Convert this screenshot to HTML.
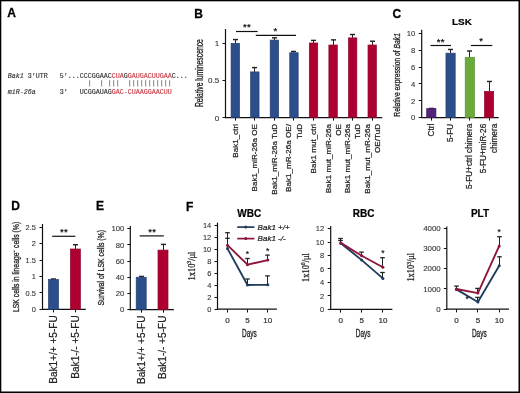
<!DOCTYPE html>
<html><head><meta charset="utf-8"><style>
html,body{margin:0;padding:0;background:#fff;}
body{width:520px;height:393px;overflow:hidden;position:relative;}
svg{position:absolute;left:0;top:0;font-family:"Liberation Sans",sans-serif;will-change:transform;}
</style></head><body>
<svg width="520" height="393" viewBox="0 0 520 393">
<rect x="0" y="0" width="520" height="393" fill="#fff"/>
<text x="7.30" y="17.40" font-size="12" text-anchor="start" font-weight="bold" font-style="normal" fill="#000" stroke="#000" stroke-width="0.3" >A</text>
<text x="7.7" y="78.2" font-size="6.67" font-family="Liberation Mono, monospace" xml:space="preserve" textLength="180.00" lengthAdjust="spacing"><tspan fill="#333333" stroke="#333333" stroke-width="0.15" font-style="italic">Bak1</tspan><tspan fill="#333333" stroke="#333333" stroke-width="0.15"> 3'UTR   5'...CCCGGAAC</tspan><tspan fill="#c63a44" stroke="#c63a44" stroke-width="0.15">CUA</tspan><tspan fill="#333333" stroke="#333333" stroke-width="0.15">G</tspan><tspan fill="#c63a44" stroke="#c63a44" stroke-width="0.15">GAUGACUUGAA</tspan><tspan fill="#333333" stroke="#333333" stroke-width="0.15">C...</tspan></text>
<text x="7.7" y="94.0" font-size="6.67" font-family="Liberation Mono, monospace" xml:space="preserve" textLength="164.00" lengthAdjust="spacing"><tspan fill="#333333" stroke="#333333" stroke-width="0.15" font-style="italic">miR-26a</tspan><tspan fill="#333333" stroke="#333333" stroke-width="0.15">      3'   UCGGAUAG</tspan><tspan fill="#c63a44" stroke="#c63a44" stroke-width="0.15">GAC</tspan><tspan fill="#c63a44" stroke="#c63a44" stroke-width="0.15">-</tspan><tspan fill="#c63a44" stroke="#c63a44" stroke-width="0.15">CUAAGGAACUU</tspan></text>
<rect x="89.25" y="80.20" width="0.90" height="6.30" fill="#777"/>
<rect x="101.25" y="80.20" width="0.90" height="6.30" fill="#777"/>
<rect x="109.25" y="80.20" width="0.90" height="6.30" fill="#777"/>
<rect x="113.25" y="80.20" width="0.90" height="6.30" fill="#777"/>
<rect x="117.25" y="80.20" width="0.90" height="6.30" fill="#777"/>
<rect x="129.25" y="80.20" width="0.90" height="6.30" fill="#777"/>
<rect x="133.25" y="80.20" width="0.90" height="6.30" fill="#777"/>
<rect x="137.25" y="80.20" width="0.90" height="6.30" fill="#777"/>
<rect x="141.25" y="80.20" width="0.90" height="6.30" fill="#777"/>
<rect x="145.25" y="80.20" width="0.90" height="6.30" fill="#777"/>
<rect x="149.25" y="80.20" width="0.90" height="6.30" fill="#777"/>
<rect x="153.25" y="80.20" width="0.90" height="6.30" fill="#777"/>
<rect x="157.25" y="80.20" width="0.90" height="6.30" fill="#777"/>
<rect x="161.25" y="80.20" width="0.90" height="6.30" fill="#777"/>
<rect x="165.25" y="80.20" width="0.90" height="6.30" fill="#777"/>
<rect x="169.25" y="80.20" width="0.90" height="6.30" fill="#777"/>
<text x="194.30" y="17.50" font-size="12" text-anchor="start" font-weight="bold" font-style="normal" fill="#000" stroke="#000" stroke-width="0.3" >B</text>
<line x1="225.50" y1="29.00" x2="225.50" y2="118.10" stroke="#111" stroke-width="1.2"/>
<line x1="224.90" y1="117.60" x2="382.20" y2="117.60" stroke="#111" stroke-width="1.2"/>
<line x1="222.50" y1="117.50" x2="225.50" y2="117.50" stroke="#111" stroke-width="1.0"/>
<text x="219.20" y="120.50" font-size="8" text-anchor="end" font-weight="normal" font-style="normal" fill="#333" stroke="#333" stroke-width="0.1" >0</text>
<line x1="222.50" y1="80.50" x2="225.50" y2="80.50" stroke="#111" stroke-width="1.0"/>
<text x="219.20" y="83.35" font-size="8" text-anchor="end" font-weight="normal" font-style="normal" fill="#333" stroke="#333" stroke-width="0.1" >0.5</text>
<line x1="222.50" y1="43.50" x2="225.50" y2="43.50" stroke="#111" stroke-width="1.0"/>
<text x="219.20" y="46.20" font-size="8" text-anchor="end" font-weight="normal" font-style="normal" fill="#333" stroke="#333" stroke-width="0.1" >1</text>
<text transform="translate(202.70,73.10) rotate(-90) scale(0.68,1)" font-size="10" text-anchor="middle" font-weight="normal" font-style="normal" fill="#222" stroke="#222" stroke-width="0.3" >Relative luminescence</text>
<line x1="235.50" y1="39.58" x2="235.50" y2="43.30" stroke="#222" stroke-width="1.0"/>
<line x1="233.00" y1="39.58" x2="238.00" y2="39.58" stroke="#222" stroke-width="1.4300000000000002"/>
<rect x="231.08" y="43.30" width="8.40" height="74.30" fill="#2c4e8b" stroke="#243f70" stroke-width="0.7"/>
<line x1="235.50" y1="117.60" x2="235.50" y2="120.60" stroke="#111" stroke-width="1.0"/>
<line x1="254.50" y1="67.60" x2="254.50" y2="71.91" stroke="#222" stroke-width="1.0"/>
<line x1="252.00" y1="67.60" x2="257.00" y2="67.60" stroke="#222" stroke-width="1.4300000000000002"/>
<rect x="250.64" y="71.91" width="8.40" height="45.69" fill="#2c4e8b" stroke="#243f70" stroke-width="0.7"/>
<line x1="254.50" y1="117.60" x2="254.50" y2="120.60" stroke="#111" stroke-width="1.0"/>
<line x1="274.50" y1="37.80" x2="274.50" y2="40.11" stroke="#222" stroke-width="1.0"/>
<line x1="272.00" y1="37.80" x2="277.00" y2="37.80" stroke="#222" stroke-width="1.4300000000000002"/>
<rect x="270.20" y="40.11" width="8.40" height="77.49" fill="#2c4e8b" stroke="#243f70" stroke-width="0.7"/>
<line x1="274.50" y1="117.60" x2="274.50" y2="120.60" stroke="#111" stroke-width="1.0"/>
<line x1="293.50" y1="51.47" x2="293.50" y2="52.74" stroke="#222" stroke-width="1.0"/>
<line x1="291.00" y1="51.47" x2="296.00" y2="51.47" stroke="#222" stroke-width="1.4300000000000002"/>
<rect x="289.76" y="52.74" width="8.40" height="64.86" fill="#2c4e8b" stroke="#243f70" stroke-width="0.7"/>
<line x1="293.50" y1="117.60" x2="293.50" y2="120.60" stroke="#111" stroke-width="1.0"/>
<line x1="313.50" y1="40.40" x2="313.50" y2="43.00" stroke="#222" stroke-width="1.0"/>
<line x1="311.00" y1="40.40" x2="316.00" y2="40.40" stroke="#222" stroke-width="1.4300000000000002"/>
<rect x="309.32" y="43.00" width="8.40" height="74.60" fill="#ae0030" stroke="#8c0a2c" stroke-width="0.7"/>
<line x1="313.50" y1="117.60" x2="313.50" y2="120.60" stroke="#111" stroke-width="1.0"/>
<line x1="333.50" y1="39.88" x2="333.50" y2="45.01" stroke="#222" stroke-width="1.0"/>
<line x1="331.00" y1="39.88" x2="336.00" y2="39.88" stroke="#222" stroke-width="1.4300000000000002"/>
<rect x="328.88" y="45.01" width="8.40" height="72.59" fill="#ae0030" stroke="#8c0a2c" stroke-width="0.7"/>
<line x1="333.50" y1="117.60" x2="333.50" y2="120.60" stroke="#111" stroke-width="1.0"/>
<line x1="352.50" y1="34.53" x2="352.50" y2="37.88" stroke="#222" stroke-width="1.0"/>
<line x1="350.00" y1="34.53" x2="355.00" y2="34.53" stroke="#222" stroke-width="1.4300000000000002"/>
<rect x="348.44" y="37.88" width="8.40" height="79.72" fill="#ae0030" stroke="#8c0a2c" stroke-width="0.7"/>
<line x1="352.50" y1="117.60" x2="352.50" y2="120.60" stroke="#111" stroke-width="1.0"/>
<line x1="372.50" y1="41.22" x2="372.50" y2="45.01" stroke="#222" stroke-width="1.0"/>
<line x1="370.00" y1="41.22" x2="375.00" y2="41.22" stroke="#222" stroke-width="1.4300000000000002"/>
<rect x="368.00" y="45.01" width="8.40" height="72.59" fill="#ae0030" stroke="#8c0a2c" stroke-width="0.7"/>
<line x1="372.50" y1="117.60" x2="372.50" y2="120.60" stroke="#111" stroke-width="1.0"/>
<text transform="translate(237.58,124.00) rotate(-90)" font-size="8.1" text-anchor="end" font-weight="normal" font-style="normal" fill="#222" stroke="#222" stroke-width="0.22" >Bak1_ctrl</text>
<text transform="translate(257.14,124.00) rotate(-90)" font-size="8.1" text-anchor="end" font-weight="normal" font-style="normal" fill="#222" stroke="#222" stroke-width="0.22" >Bak1_miR-26a OE</text>
<text transform="translate(276.70,124.00) rotate(-90)" font-size="8.1" text-anchor="end" font-weight="normal" font-style="normal" fill="#222" stroke="#222" stroke-width="0.22" >Bak1_miR-26a TuD</text>
<text transform="translate(291.46,124.00) rotate(-90)" font-size="8.1" text-anchor="end" font-weight="normal" font-style="normal" fill="#222" stroke="#222" stroke-width="0.22" >Bak1_mR-26a OE/</text>
<text transform="translate(301.66,124.00) rotate(-90)" font-size="8.1" text-anchor="end" font-weight="normal" font-style="normal" fill="#222" stroke="#222" stroke-width="0.22" >TuD</text>
<text transform="translate(315.82,124.00) rotate(-90)" font-size="8.1" text-anchor="end" font-weight="normal" font-style="normal" fill="#222" stroke="#222" stroke-width="0.22" >Bak1 mut_ctrl</text>
<text transform="translate(330.58,124.00) rotate(-90)" font-size="8.1" text-anchor="end" font-weight="normal" font-style="normal" fill="#222" stroke="#222" stroke-width="0.22" >Bak1 mut_miR-26a</text>
<text transform="translate(340.78,124.00) rotate(-90)" font-size="8.1" text-anchor="end" font-weight="normal" font-style="normal" fill="#222" stroke="#222" stroke-width="0.22" >OE</text>
<text transform="translate(350.14,124.00) rotate(-90)" font-size="8.1" text-anchor="end" font-weight="normal" font-style="normal" fill="#222" stroke="#222" stroke-width="0.22" >Bak1 mut_miR-26a</text>
<text transform="translate(360.34,124.00) rotate(-90)" font-size="8.1" text-anchor="end" font-weight="normal" font-style="normal" fill="#222" stroke="#222" stroke-width="0.22" >TuD</text>
<text transform="translate(369.70,124.00) rotate(-90)" font-size="8.1" text-anchor="end" font-weight="normal" font-style="normal" fill="#222" stroke="#222" stroke-width="0.22" >Bak1_mut_mR-26a</text>
<text transform="translate(379.90,124.00) rotate(-90)" font-size="8.1" text-anchor="end" font-weight="normal" font-style="normal" fill="#222" stroke="#222" stroke-width="0.22" >OE/TuD</text>
<line x1="236.00" y1="31.50" x2="257.60" y2="31.50" stroke="#111" stroke-width="1.2"/>
<text x="247.00" y="30.20" font-size="9.6" text-anchor="middle" font-weight="normal" font-style="normal" fill="#000" stroke="#000" stroke-width="0.2" letter-spacing="0.3">**</text>
<line x1="255.80" y1="35.30" x2="296.00" y2="35.30" stroke="#111" stroke-width="1.3"/>
<text x="275.30" y="34.00" font-size="9.6" text-anchor="middle" font-weight="normal" font-style="normal" fill="#000" stroke="#000" stroke-width="0.2" >*</text>
<text x="392.50" y="17.60" font-size="12" text-anchor="start" font-weight="bold" font-style="normal" fill="#000" stroke="#000" stroke-width="0.3" >C</text>
<text x="461.90" y="24.80" font-size="9.9" text-anchor="middle" font-weight="bold" font-style="normal" fill="#000" stroke="#000" stroke-width="0.2" >LSK</text>
<line x1="421.70" y1="29.80" x2="421.70" y2="118.10" stroke="#111" stroke-width="1.2"/>
<line x1="421.10" y1="117.60" x2="498.70" y2="117.60" stroke="#111" stroke-width="1.2"/>
<line x1="418.70" y1="117.50" x2="421.70" y2="117.50" stroke="#111" stroke-width="1.0"/>
<text x="415.30" y="120.35" font-size="7.7" text-anchor="end" font-weight="normal" font-style="normal" fill="#333" stroke="#333" stroke-width="0.1" >0</text>
<line x1="418.70" y1="100.50" x2="421.70" y2="100.50" stroke="#111" stroke-width="1.0"/>
<text x="415.30" y="103.51" font-size="7.7" text-anchor="end" font-weight="normal" font-style="normal" fill="#333" stroke="#333" stroke-width="0.1" >2</text>
<line x1="418.70" y1="83.50" x2="421.70" y2="83.50" stroke="#111" stroke-width="1.0"/>
<text x="415.30" y="86.67" font-size="7.7" text-anchor="end" font-weight="normal" font-style="normal" fill="#333" stroke="#333" stroke-width="0.1" >4</text>
<line x1="418.70" y1="67.50" x2="421.70" y2="67.50" stroke="#111" stroke-width="1.0"/>
<text x="415.30" y="69.83" font-size="7.7" text-anchor="end" font-weight="normal" font-style="normal" fill="#333" stroke="#333" stroke-width="0.1" >6</text>
<line x1="418.70" y1="50.50" x2="421.70" y2="50.50" stroke="#111" stroke-width="1.0"/>
<text x="415.30" y="52.99" font-size="7.7" text-anchor="end" font-weight="normal" font-style="normal" fill="#333" stroke="#333" stroke-width="0.1" >8</text>
<line x1="418.70" y1="33.50" x2="421.70" y2="33.50" stroke="#111" stroke-width="1.0"/>
<text x="415.30" y="36.15" font-size="7.7" text-anchor="end" font-weight="normal" font-style="normal" fill="#333" stroke="#333" stroke-width="0.1" >10</text>
<text transform="translate(400,74.85) rotate(-90) scale(0.69,1)" font-size="9.8" text-anchor="middle" fill="#222" stroke="#222" stroke-width="0.3">Relative expression of <tspan font-style="italic">Bak1</tspan></text>
<line x1="431.50" y1="108.42" x2="431.50" y2="108.59" stroke="#222" stroke-width="1.0"/>
<line x1="429.00" y1="108.42" x2="434.00" y2="108.42" stroke="#222" stroke-width="1.4300000000000002"/>
<rect x="426.72" y="108.59" width="9.20" height="9.01" fill="#512477" stroke="#3e1a60" stroke-width="0.7"/>
<line x1="431.50" y1="117.60" x2="431.50" y2="120.60" stroke="#111" stroke-width="1.0"/>
<line x1="450.50" y1="49.48" x2="450.50" y2="53.19" stroke="#222" stroke-width="1.0"/>
<line x1="448.00" y1="49.48" x2="453.00" y2="49.48" stroke="#222" stroke-width="1.4300000000000002"/>
<rect x="445.97" y="53.19" width="9.20" height="64.41" fill="#2c4e8b" stroke="#243f70" stroke-width="0.7"/>
<line x1="450.50" y1="117.60" x2="450.50" y2="120.60" stroke="#111" stroke-width="1.0"/>
<line x1="469.50" y1="51.00" x2="469.50" y2="57.31" stroke="#222" stroke-width="1.0"/>
<line x1="467.00" y1="51.00" x2="472.00" y2="51.00" stroke="#222" stroke-width="1.4300000000000002"/>
<rect x="465.22" y="57.31" width="9.20" height="60.29" fill="#6aab3b" stroke="#5a9030" stroke-width="0.7"/>
<line x1="469.50" y1="117.60" x2="469.50" y2="120.60" stroke="#111" stroke-width="1.0"/>
<line x1="489.50" y1="81.48" x2="489.50" y2="91.33" stroke="#222" stroke-width="1.0"/>
<line x1="487.00" y1="81.48" x2="492.00" y2="81.48" stroke="#222" stroke-width="1.4300000000000002"/>
<rect x="484.47" y="91.33" width="9.20" height="26.27" fill="#ae0030" stroke="#8c0a2c" stroke-width="0.7"/>
<line x1="489.50" y1="117.60" x2="489.50" y2="120.60" stroke="#111" stroke-width="1.0"/>
<text transform="translate(433.93,123.80) rotate(-90)" font-size="8.2" text-anchor="end" font-weight="normal" font-style="normal" fill="#222" stroke="#222" stroke-width="0.22" >Ctrl</text>
<text transform="translate(453.18,123.80) rotate(-90)" font-size="8.2" text-anchor="end" font-weight="normal" font-style="normal" fill="#222" stroke="#222" stroke-width="0.22" >5-FU</text>
<text transform="translate(472.43,123.80) rotate(-90)" font-size="8.2" text-anchor="end" font-weight="normal" font-style="normal" fill="#222" stroke="#222" stroke-width="0.22" >5-FU+ctrl chimera</text>
<text transform="translate(486.47,123.80) rotate(-90)" font-size="8.2" text-anchor="end" font-weight="normal" font-style="normal" fill="#222" stroke="#222" stroke-width="0.22" >5-FU+miR-26</text>
<text transform="translate(496.57,123.80) rotate(-90)" font-size="8.2" text-anchor="end" font-weight="normal" font-style="normal" fill="#222" stroke="#222" stroke-width="0.22" >chimera</text>
<line x1="430.50" y1="45.50" x2="451.00" y2="45.50" stroke="#111" stroke-width="1.2"/>
<text x="440.70" y="44.60" font-size="9.6" text-anchor="middle" font-weight="normal" font-style="normal" fill="#000" stroke="#000" stroke-width="0.2" letter-spacing="0.3">**</text>
<line x1="470.90" y1="45.50" x2="492.30" y2="45.50" stroke="#111" stroke-width="1.2"/>
<text x="481.20" y="44.40" font-size="9.6" text-anchor="middle" font-weight="normal" font-style="normal" fill="#000" stroke="#000" stroke-width="0.2" >*</text>
<text x="11.30" y="210.10" font-size="12" text-anchor="start" font-weight="bold" font-style="normal" fill="#000" stroke="#000" stroke-width="0.3" >D</text>
<line x1="42.50" y1="224.00" x2="42.50" y2="309.90" stroke="#111" stroke-width="1.2"/>
<line x1="41.90" y1="309.40" x2="85.80" y2="309.40" stroke="#111" stroke-width="1.2"/>
<line x1="39.50" y1="309.50" x2="42.50" y2="309.50" stroke="#111" stroke-width="1.0"/>
<text x="35.80" y="312.05" font-size="7.4" text-anchor="end" font-weight="normal" font-style="normal" fill="#333" stroke="#333" stroke-width="0.1" >0</text>
<line x1="39.50" y1="292.50" x2="42.50" y2="292.50" stroke="#111" stroke-width="1.0"/>
<text x="35.80" y="295.60" font-size="7.4" text-anchor="end" font-weight="normal" font-style="normal" fill="#333" stroke="#333" stroke-width="0.1" >0.5</text>
<line x1="39.50" y1="276.50" x2="42.50" y2="276.50" stroke="#111" stroke-width="1.0"/>
<text x="35.80" y="279.15" font-size="7.4" text-anchor="end" font-weight="normal" font-style="normal" fill="#333" stroke="#333" stroke-width="0.1" >1</text>
<line x1="39.50" y1="260.50" x2="42.50" y2="260.50" stroke="#111" stroke-width="1.0"/>
<text x="35.80" y="262.70" font-size="7.4" text-anchor="end" font-weight="normal" font-style="normal" fill="#333" stroke="#333" stroke-width="0.1" >1.5</text>
<line x1="39.50" y1="243.50" x2="42.50" y2="243.50" stroke="#111" stroke-width="1.0"/>
<text x="35.80" y="246.25" font-size="7.4" text-anchor="end" font-weight="normal" font-style="normal" fill="#333" stroke="#333" stroke-width="0.1" >2</text>
<line x1="39.50" y1="227.50" x2="42.50" y2="227.50" stroke="#111" stroke-width="1.0"/>
<text x="35.80" y="229.80" font-size="7.4" text-anchor="end" font-weight="normal" font-style="normal" fill="#333" stroke="#333" stroke-width="0.1" >2.5</text>
<text transform="translate(19,266.95) rotate(-90) scale(0.72,1)" font-size="9.5" text-anchor="middle" fill="#222" stroke="#222" stroke-width="0.3">LSK cells in lineage<tspan font-size="6" dy="-3.5">−</tspan><tspan dy="3.5"> cells (%)</tspan></text>
<line x1="53.50" y1="278.97" x2="53.50" y2="279.46" stroke="#222" stroke-width="1.0"/>
<line x1="51.00" y1="278.97" x2="56.00" y2="278.97" stroke="#222" stroke-width="1.4300000000000002"/>
<rect x="48.50" y="279.46" width="10.00" height="29.94" fill="#2c4e8b" stroke="#243f70" stroke-width="0.7"/>
<line x1="53.50" y1="309.40" x2="53.50" y2="312.40" stroke="#111" stroke-width="1.0"/>
<line x1="75.50" y1="244.75" x2="75.50" y2="249.00" stroke="#222" stroke-width="1.0"/>
<line x1="73.00" y1="244.75" x2="78.00" y2="244.75" stroke="#222" stroke-width="1.4300000000000002"/>
<rect x="70.40" y="249.00" width="10.00" height="60.40" fill="#ae0030" stroke="#8c0a2c" stroke-width="0.7"/>
<line x1="75.50" y1="309.40" x2="75.50" y2="312.40" stroke="#111" stroke-width="1.0"/>
<text transform="translate(57.40,315.30) rotate(-90)" font-size="10.05" text-anchor="end" font-weight="normal" font-style="normal" fill="#222" stroke="#222" stroke-width="0.22" >Bak1+/+ +5-FU</text>
<text transform="translate(78.60,315.30) rotate(-90)" font-size="10.05" text-anchor="end" font-weight="normal" font-style="normal" fill="#222" stroke="#222" stroke-width="0.22" >Bak1-/- +5-FU</text>
<line x1="52.20" y1="236.30" x2="75.30" y2="236.30" stroke="#111" stroke-width="1.2"/>
<text x="64.10" y="235.20" font-size="9.6" text-anchor="middle" font-weight="normal" font-style="normal" fill="#000" stroke="#000" stroke-width="0.2" letter-spacing="0.3">**</text>
<text x="96.00" y="210.20" font-size="12" text-anchor="start" font-weight="bold" font-style="normal" fill="#000" stroke="#000" stroke-width="0.3" >E</text>
<line x1="130.30" y1="226.00" x2="130.30" y2="310.20" stroke="#111" stroke-width="1.2"/>
<line x1="129.70" y1="309.70" x2="173.90" y2="309.70" stroke="#111" stroke-width="1.2"/>
<line x1="127.30" y1="309.50" x2="130.30" y2="309.50" stroke="#111" stroke-width="1.0"/>
<text x="124.30" y="312.45" font-size="7.7" text-anchor="end" font-weight="normal" font-style="normal" fill="#333" stroke="#333" stroke-width="0.1" >0</text>
<line x1="127.30" y1="293.50" x2="130.30" y2="293.50" stroke="#111" stroke-width="1.0"/>
<text x="124.30" y="296.23" font-size="7.7" text-anchor="end" font-weight="normal" font-style="normal" fill="#333" stroke="#333" stroke-width="0.1" >20</text>
<line x1="127.30" y1="277.50" x2="130.30" y2="277.50" stroke="#111" stroke-width="1.0"/>
<text x="124.30" y="280.01" font-size="7.7" text-anchor="end" font-weight="normal" font-style="normal" fill="#333" stroke="#333" stroke-width="0.1" >40</text>
<line x1="127.30" y1="261.50" x2="130.30" y2="261.50" stroke="#111" stroke-width="1.0"/>
<text x="124.30" y="263.79" font-size="7.7" text-anchor="end" font-weight="normal" font-style="normal" fill="#333" stroke="#333" stroke-width="0.1" >60</text>
<line x1="127.30" y1="244.50" x2="130.30" y2="244.50" stroke="#111" stroke-width="1.0"/>
<text x="124.30" y="247.57" font-size="7.7" text-anchor="end" font-weight="normal" font-style="normal" fill="#333" stroke="#333" stroke-width="0.1" >80</text>
<line x1="127.30" y1="228.50" x2="130.30" y2="228.50" stroke="#111" stroke-width="1.0"/>
<text x="124.30" y="231.35" font-size="7.7" text-anchor="end" font-weight="normal" font-style="normal" fill="#333" stroke="#333" stroke-width="0.1" >100</text>
<text transform="translate(104.00,267.75) rotate(-90) scale(0.72,1)" font-size="9.6" text-anchor="middle" font-weight="normal" font-style="normal" fill="#222" stroke="#222" stroke-width="0.3" >Survival of LSK cells (%)</text>
<line x1="141.50" y1="276.45" x2="141.50" y2="277.26" stroke="#222" stroke-width="1.0"/>
<line x1="139.00" y1="276.45" x2="144.00" y2="276.45" stroke="#222" stroke-width="1.4300000000000002"/>
<rect x="136.20" y="277.26" width="10.00" height="32.44" fill="#2c4e8b" stroke="#243f70" stroke-width="0.7"/>
<line x1="141.50" y1="309.70" x2="141.50" y2="312.70" stroke="#111" stroke-width="1.0"/>
<line x1="163.50" y1="244.41" x2="163.50" y2="250.09" stroke="#222" stroke-width="1.0"/>
<line x1="161.00" y1="244.41" x2="166.00" y2="244.41" stroke="#222" stroke-width="1.4300000000000002"/>
<rect x="158.00" y="250.09" width="10.00" height="59.61" fill="#ae0030" stroke="#8c0a2c" stroke-width="0.7"/>
<line x1="163.50" y1="309.70" x2="163.50" y2="312.70" stroke="#111" stroke-width="1.0"/>
<text transform="translate(145.20,315.60) rotate(-90)" font-size="10.05" text-anchor="end" font-weight="normal" font-style="normal" fill="#222" stroke="#222" stroke-width="0.22" >Bak1+/+ +5-FU</text>
<text transform="translate(166.40,315.60) rotate(-90)" font-size="10.05" text-anchor="end" font-weight="normal" font-style="normal" fill="#222" stroke="#222" stroke-width="0.22" >Bak1-/- +5-FU</text>
<line x1="139.70" y1="235.90" x2="163.80" y2="235.90" stroke="#111" stroke-width="1.2"/>
<text x="152.20" y="235.00" font-size="9.6" text-anchor="middle" font-weight="normal" font-style="normal" fill="#000" stroke="#000" stroke-width="0.2" letter-spacing="0.3">**</text>
<text x="186.00" y="210.50" font-size="12" text-anchor="start" font-weight="bold" font-style="normal" fill="#000" stroke="#000" stroke-width="0.3" >F</text>
<text x="249.30" y="217.00" font-size="10" text-anchor="middle" font-weight="bold" font-style="normal" fill="#000" stroke="#000" stroke-width="0.2" >WBC</text>
<line x1="217.50" y1="222.60" x2="217.50" y2="309.70" stroke="#111" stroke-width="1.2"/>
<line x1="216.90" y1="309.20" x2="276.90" y2="309.20" stroke="#111" stroke-width="1.2"/>
<line x1="214.50" y1="309.50" x2="217.50" y2="309.50" stroke="#111" stroke-width="1.0"/>
<text x="211.30" y="311.90" font-size="7.5" text-anchor="end" font-weight="normal" font-style="normal" fill="#333" stroke="#333" stroke-width="0.1" >0</text>
<line x1="214.50" y1="297.50" x2="217.50" y2="297.50" stroke="#111" stroke-width="1.0"/>
<text x="211.30" y="299.96" font-size="7.5" text-anchor="end" font-weight="normal" font-style="normal" fill="#333" stroke="#333" stroke-width="0.1" >2</text>
<line x1="214.50" y1="285.50" x2="217.50" y2="285.50" stroke="#111" stroke-width="1.0"/>
<text x="211.30" y="288.02" font-size="7.5" text-anchor="end" font-weight="normal" font-style="normal" fill="#333" stroke="#333" stroke-width="0.1" >4</text>
<line x1="214.50" y1="273.50" x2="217.50" y2="273.50" stroke="#111" stroke-width="1.0"/>
<text x="211.30" y="276.08" font-size="7.5" text-anchor="end" font-weight="normal" font-style="normal" fill="#333" stroke="#333" stroke-width="0.1" >6</text>
<line x1="214.50" y1="261.50" x2="217.50" y2="261.50" stroke="#111" stroke-width="1.0"/>
<text x="211.30" y="264.14" font-size="7.5" text-anchor="end" font-weight="normal" font-style="normal" fill="#333" stroke="#333" stroke-width="0.1" >8</text>
<line x1="214.50" y1="249.50" x2="217.50" y2="249.50" stroke="#111" stroke-width="1.0"/>
<text x="211.30" y="252.20" font-size="7.5" text-anchor="end" font-weight="normal" font-style="normal" fill="#333" stroke="#333" stroke-width="0.1" >10</text>
<line x1="214.50" y1="237.50" x2="217.50" y2="237.50" stroke="#111" stroke-width="1.0"/>
<text x="211.30" y="240.26" font-size="7.5" text-anchor="end" font-weight="normal" font-style="normal" fill="#333" stroke="#333" stroke-width="0.1" >12</text>
<line x1="214.50" y1="225.50" x2="217.50" y2="225.50" stroke="#111" stroke-width="1.0"/>
<text x="211.30" y="228.32" font-size="7.5" text-anchor="end" font-weight="normal" font-style="normal" fill="#333" stroke="#333" stroke-width="0.1" >14</text>
<line x1="227.50" y1="309.20" x2="227.50" y2="312.50" stroke="#111" stroke-width="1.0"/>
<text x="227.50" y="323.10" font-size="8" text-anchor="middle" font-weight="normal" font-style="normal" fill="#333" stroke="#333" stroke-width="0.22" >0</text>
<line x1="247.50" y1="309.20" x2="247.50" y2="312.50" stroke="#111" stroke-width="1.0"/>
<text x="247.50" y="323.10" font-size="8" text-anchor="middle" font-weight="normal" font-style="normal" fill="#333" stroke="#333" stroke-width="0.22" >5</text>
<line x1="267.50" y1="309.20" x2="267.50" y2="312.50" stroke="#111" stroke-width="1.0"/>
<text x="267.80" y="323.10" font-size="8" text-anchor="middle" font-weight="normal" font-style="normal" fill="#333" stroke="#333" stroke-width="0.22" >10</text>
<text transform="translate(249.40,336.80) scale(0.65,1)" font-size="10" text-anchor="middle" font-weight="normal" font-style="normal" fill="#222" stroke="#222" stroke-width="0.3" >Days</text>
<line x1="227.50" y1="238.30" x2="227.50" y2="248.60" stroke="#222" stroke-width="1.0"/>
<line x1="225.20" y1="238.30" x2="229.80" y2="238.30" stroke="#222" stroke-width="1.3"/>
<line x1="247.50" y1="279.00" x2="247.50" y2="285.00" stroke="#222" stroke-width="1.0"/>
<line x1="245.20" y1="279.00" x2="249.80" y2="279.00" stroke="#222" stroke-width="1.3"/>
<line x1="267.50" y1="275.90" x2="267.50" y2="284.80" stroke="#222" stroke-width="1.0"/>
<line x1="265.20" y1="275.90" x2="269.80" y2="275.90" stroke="#222" stroke-width="1.3"/>
<line x1="227.50" y1="232.70" x2="227.50" y2="245.20" stroke="#222" stroke-width="1.0"/>
<line x1="225.20" y1="232.70" x2="229.80" y2="232.70" stroke="#222" stroke-width="1.3"/>
<line x1="247.50" y1="258.50" x2="247.50" y2="264.70" stroke="#222" stroke-width="1.0"/>
<line x1="245.20" y1="258.50" x2="249.80" y2="258.50" stroke="#222" stroke-width="1.3"/>
<line x1="267.50" y1="255.10" x2="267.50" y2="260.10" stroke="#222" stroke-width="1.0"/>
<line x1="265.20" y1="255.10" x2="269.80" y2="255.10" stroke="#222" stroke-width="1.3"/>
<polyline points="227.50,248.60 247.50,285.00 267.80,284.80" fill="none" stroke="#213b5e" stroke-width="1.85" stroke-linejoin="round"/>
<polyline points="227.50,245.20 247.50,264.70 267.80,260.10" fill="none" stroke="#8e1439" stroke-width="1.85" stroke-linejoin="round"/>
<circle cx="227.50" cy="248.60" r="1.5" fill="#213b5e"/>
<circle cx="247.50" cy="285.00" r="1.5" fill="#213b5e"/>
<circle cx="267.80" cy="284.80" r="1.5" fill="#213b5e"/>
<circle cx="227.50" cy="245.20" r="1.5" fill="#8e1439"/>
<circle cx="247.50" cy="264.70" r="1.5" fill="#8e1439"/>
<circle cx="267.80" cy="260.10" r="1.5" fill="#8e1439"/>
<text x="247.50" y="257.10" font-size="8.6" text-anchor="middle" font-weight="normal" font-style="normal" fill="#000" stroke="#000" stroke-width="0.1" >*</text>
<text x="267.80" y="253.70" font-size="8.6" text-anchor="middle" font-weight="normal" font-style="normal" fill="#000" stroke="#000" stroke-width="0.1" >*</text>
<text transform="translate(195.2,266) rotate(-90) scale(0.84,1)" font-family="Liberation Serif, serif" font-size="10.0" text-anchor="middle" fill="#222" stroke="#222" stroke-width="0.25">1x10<tspan font-size="6.80" dy="-3.80">3</tspan><tspan dy="3.80">/μl</tspan></text>
<line x1="237.20" y1="227.10" x2="254.40" y2="227.10" stroke="#213b5e" stroke-width="1.7"/>
<circle cx="245.8" cy="227.1" r="1.5" fill="#213b5e"/>
<line x1="237.20" y1="238.60" x2="254.40" y2="238.60" stroke="#8e1439" stroke-width="1.7"/>
<circle cx="245.8" cy="238.6" r="1.5" fill="#8e1439"/>
<text x="257.60" y="230.00" font-size="8" text-anchor="start" font-weight="normal" font-style="italic" fill="#222" stroke="#222" stroke-width="0.22" >Bak1 +/+</text>
<text x="257.60" y="241.40" font-size="8" text-anchor="start" font-weight="normal" font-style="italic" fill="#222" stroke="#222" stroke-width="0.22" >Bak1 -/-</text>
<text x="363.70" y="217.00" font-size="10" text-anchor="middle" font-weight="bold" font-style="normal" fill="#000" stroke="#000" stroke-width="0.2" >RBC</text>
<line x1="330.70" y1="226.00" x2="330.70" y2="309.80" stroke="#111" stroke-width="1.2"/>
<line x1="330.10" y1="309.30" x2="392.40" y2="309.30" stroke="#111" stroke-width="1.2"/>
<line x1="327.70" y1="309.50" x2="330.70" y2="309.50" stroke="#111" stroke-width="1.0"/>
<text x="324.20" y="312.00" font-size="7.5" text-anchor="end" font-weight="normal" font-style="normal" fill="#333" stroke="#333" stroke-width="0.1" >0</text>
<line x1="327.70" y1="295.50" x2="330.70" y2="295.50" stroke="#111" stroke-width="1.0"/>
<text x="324.20" y="298.55" font-size="7.5" text-anchor="end" font-weight="normal" font-style="normal" fill="#333" stroke="#333" stroke-width="0.1" >2</text>
<line x1="327.70" y1="282.50" x2="330.70" y2="282.50" stroke="#111" stroke-width="1.0"/>
<text x="324.20" y="285.10" font-size="7.5" text-anchor="end" font-weight="normal" font-style="normal" fill="#333" stroke="#333" stroke-width="0.1" >4</text>
<line x1="327.70" y1="268.50" x2="330.70" y2="268.50" stroke="#111" stroke-width="1.0"/>
<text x="324.20" y="271.65" font-size="7.5" text-anchor="end" font-weight="normal" font-style="normal" fill="#333" stroke="#333" stroke-width="0.1" >6</text>
<line x1="327.70" y1="255.50" x2="330.70" y2="255.50" stroke="#111" stroke-width="1.0"/>
<text x="324.20" y="258.20" font-size="7.5" text-anchor="end" font-weight="normal" font-style="normal" fill="#333" stroke="#333" stroke-width="0.1" >8</text>
<line x1="327.70" y1="242.50" x2="330.70" y2="242.50" stroke="#111" stroke-width="1.0"/>
<text x="324.20" y="244.75" font-size="7.5" text-anchor="end" font-weight="normal" font-style="normal" fill="#333" stroke="#333" stroke-width="0.1" >10</text>
<line x1="327.70" y1="228.50" x2="330.70" y2="228.50" stroke="#111" stroke-width="1.0"/>
<text x="324.20" y="231.30" font-size="7.5" text-anchor="end" font-weight="normal" font-style="normal" fill="#333" stroke="#333" stroke-width="0.1" >12</text>
<line x1="340.50" y1="309.30" x2="340.50" y2="312.60" stroke="#111" stroke-width="1.0"/>
<text x="340.80" y="323.10" font-size="8" text-anchor="middle" font-weight="normal" font-style="normal" fill="#333" stroke="#333" stroke-width="0.22" >0</text>
<line x1="361.50" y1="309.30" x2="361.50" y2="312.60" stroke="#111" stroke-width="1.0"/>
<text x="361.70" y="323.10" font-size="8" text-anchor="middle" font-weight="normal" font-style="normal" fill="#333" stroke="#333" stroke-width="0.22" >5</text>
<line x1="382.50" y1="309.30" x2="382.50" y2="312.60" stroke="#111" stroke-width="1.0"/>
<text x="382.90" y="323.10" font-size="8" text-anchor="middle" font-weight="normal" font-style="normal" fill="#333" stroke="#333" stroke-width="0.22" >10</text>
<text transform="translate(363.20,336.80) scale(0.65,1)" font-size="10" text-anchor="middle" font-weight="normal" font-style="normal" fill="#222" stroke="#222" stroke-width="0.3" >Days</text>
<line x1="340.50" y1="240.50" x2="340.50" y2="243.20" stroke="#222" stroke-width="1.0"/>
<line x1="338.20" y1="240.50" x2="342.80" y2="240.50" stroke="#222" stroke-width="1.3"/>
<line x1="382.50" y1="272.50" x2="382.50" y2="278.40" stroke="#222" stroke-width="1.0"/>
<line x1="380.20" y1="272.50" x2="384.80" y2="272.50" stroke="#222" stroke-width="1.3"/>
<line x1="340.50" y1="238.50" x2="340.50" y2="242.90" stroke="#222" stroke-width="1.0"/>
<line x1="338.20" y1="238.50" x2="342.80" y2="238.50" stroke="#222" stroke-width="1.3"/>
<line x1="361.50" y1="252.10" x2="361.50" y2="255.70" stroke="#222" stroke-width="1.0"/>
<line x1="359.20" y1="252.10" x2="363.80" y2="252.10" stroke="#222" stroke-width="1.3"/>
<line x1="382.50" y1="257.70" x2="382.50" y2="267.20" stroke="#222" stroke-width="1.0"/>
<line x1="380.20" y1="257.70" x2="384.80" y2="257.70" stroke="#222" stroke-width="1.3"/>
<polyline points="340.80,243.20 361.70,260.10 382.90,278.40" fill="none" stroke="#213b5e" stroke-width="1.85" stroke-linejoin="round"/>
<polyline points="340.80,242.90 361.70,255.70 382.90,267.20" fill="none" stroke="#8e1439" stroke-width="1.85" stroke-linejoin="round"/>
<circle cx="340.80" cy="243.20" r="1.5" fill="#213b5e"/>
<circle cx="361.70" cy="260.10" r="1.5" fill="#213b5e"/>
<circle cx="382.90" cy="278.40" r="1.5" fill="#213b5e"/>
<circle cx="340.80" cy="242.90" r="1.5" fill="#8e1439"/>
<circle cx="361.70" cy="255.70" r="1.5" fill="#8e1439"/>
<circle cx="382.90" cy="267.20" r="1.5" fill="#8e1439"/>
<text x="382.90" y="256.20" font-size="8.6" text-anchor="middle" font-weight="normal" font-style="normal" fill="#000" stroke="#000" stroke-width="0.1" >*</text>
<text transform="translate(308.6,267.5) rotate(-90) scale(0.84,1)" font-family="Liberation Serif, serif" font-size="10.0" text-anchor="middle" fill="#222" stroke="#222" stroke-width="0.25">1x10<tspan font-size="6.80" dy="-3.80">6</tspan><tspan dy="3.80">/μl</tspan></text>
<text x="480.00" y="217.00" font-size="10" text-anchor="middle" font-weight="bold" font-style="normal" fill="#000" stroke="#000" stroke-width="0.2" >PLT</text>
<line x1="446.80" y1="226.40" x2="446.80" y2="309.60" stroke="#111" stroke-width="1.2"/>
<line x1="446.20" y1="309.10" x2="509.00" y2="309.10" stroke="#111" stroke-width="1.2"/>
<line x1="443.80" y1="309.50" x2="446.80" y2="309.50" stroke="#111" stroke-width="1.0"/>
<text x="440.70" y="311.80" font-size="7.9" text-anchor="end" font-weight="normal" font-style="normal" fill="#333" stroke="#333" stroke-width="0.1" >0</text>
<line x1="443.80" y1="288.50" x2="446.80" y2="288.50" stroke="#111" stroke-width="1.0"/>
<text x="440.70" y="291.60" font-size="7.9" text-anchor="end" font-weight="normal" font-style="normal" fill="#333" stroke="#333" stroke-width="0.1" >1000</text>
<line x1="443.80" y1="268.50" x2="446.80" y2="268.50" stroke="#111" stroke-width="1.0"/>
<text x="440.70" y="271.40" font-size="7.9" text-anchor="end" font-weight="normal" font-style="normal" fill="#333" stroke="#333" stroke-width="0.1" >2000</text>
<line x1="443.80" y1="248.50" x2="446.80" y2="248.50" stroke="#111" stroke-width="1.0"/>
<text x="440.70" y="251.20" font-size="7.9" text-anchor="end" font-weight="normal" font-style="normal" fill="#333" stroke="#333" stroke-width="0.1" >3000</text>
<line x1="443.80" y1="228.50" x2="446.80" y2="228.50" stroke="#111" stroke-width="1.0"/>
<text x="440.70" y="231.00" font-size="7.9" text-anchor="end" font-weight="normal" font-style="normal" fill="#333" stroke="#333" stroke-width="0.1" >4000</text>
<line x1="456.50" y1="309.10" x2="456.50" y2="312.40" stroke="#111" stroke-width="1.0"/>
<text x="456.40" y="323.10" font-size="8" text-anchor="middle" font-weight="normal" font-style="normal" fill="#333" stroke="#333" stroke-width="0.22" >0</text>
<line x1="477.50" y1="309.10" x2="477.50" y2="312.40" stroke="#111" stroke-width="1.0"/>
<text x="477.90" y="323.10" font-size="8" text-anchor="middle" font-weight="normal" font-style="normal" fill="#333" stroke="#333" stroke-width="0.22" >5</text>
<line x1="499.50" y1="309.10" x2="499.50" y2="312.40" stroke="#111" stroke-width="1.0"/>
<text x="499.20" y="323.10" font-size="8" text-anchor="middle" font-weight="normal" font-style="normal" fill="#333" stroke="#333" stroke-width="0.22" >10</text>
<text transform="translate(479.30,336.80) scale(0.65,1)" font-size="10" text-anchor="middle" font-weight="normal" font-style="normal" fill="#222" stroke="#222" stroke-width="0.3" >Days</text>
<line x1="477.50" y1="297.40" x2="477.50" y2="302.00" stroke="#222" stroke-width="1.0"/>
<line x1="475.20" y1="297.40" x2="479.80" y2="297.40" stroke="#222" stroke-width="1.3"/>
<line x1="499.50" y1="256.80" x2="499.50" y2="265.70" stroke="#222" stroke-width="1.0"/>
<line x1="497.20" y1="256.80" x2="501.80" y2="256.80" stroke="#222" stroke-width="1.3"/>
<line x1="456.50" y1="286.10" x2="456.50" y2="289.00" stroke="#222" stroke-width="1.0"/>
<line x1="454.20" y1="286.10" x2="458.80" y2="286.10" stroke="#222" stroke-width="1.3"/>
<line x1="477.50" y1="288.40" x2="477.50" y2="293.10" stroke="#222" stroke-width="1.0"/>
<line x1="475.20" y1="288.40" x2="479.80" y2="288.40" stroke="#222" stroke-width="1.3"/>
<line x1="499.50" y1="236.70" x2="499.50" y2="246.00" stroke="#222" stroke-width="1.0"/>
<line x1="497.20" y1="236.70" x2="501.80" y2="236.70" stroke="#222" stroke-width="1.3"/>
<polyline points="456.40,289.40 477.90,302.00 499.20,265.70" fill="none" stroke="#213b5e" stroke-width="1.85" stroke-linejoin="round"/>
<polyline points="456.40,289.00 477.90,293.10 499.20,246.00" fill="none" stroke="#8e1439" stroke-width="1.85" stroke-linejoin="round"/>
<circle cx="456.40" cy="289.40" r="1.5" fill="#213b5e"/>
<circle cx="477.90" cy="302.00" r="1.5" fill="#213b5e"/>
<circle cx="499.20" cy="265.70" r="1.5" fill="#213b5e"/>
<circle cx="456.40" cy="289.00" r="1.5" fill="#8e1439"/>
<circle cx="477.90" cy="293.10" r="1.5" fill="#8e1439"/>
<circle cx="499.20" cy="246.00" r="1.5" fill="#8e1439"/>
<text x="499.20" y="235.00" font-size="8.6" text-anchor="middle" font-weight="normal" font-style="normal" fill="#000" stroke="#000" stroke-width="0.1" >*</text>
<text x="467.10" y="301.80" font-size="8.6" text-anchor="middle" font-weight="normal" font-style="normal" fill="#000" stroke="#000" stroke-width="0.1" >*</text>
<text transform="translate(414.3,267.2) rotate(-90) scale(0.84,1)" font-family="Liberation Serif, serif" font-size="10.0" text-anchor="middle" fill="#222" stroke="#222" stroke-width="0.25">1x10<tspan font-size="6.80" dy="-3.80">3</tspan><tspan dy="3.80">/μl</tspan></text>
<rect x="0" y="0" width="520" height="1.3" fill="#000"/>
<rect x="0" y="0" width="1.3" height="393" fill="#000"/>
<rect x="518.5" y="0" width="1.5" height="393" fill="#000"/>
<rect x="0" y="391.5" width="520" height="1.5" fill="#000"/>
</svg>
</body></html>
